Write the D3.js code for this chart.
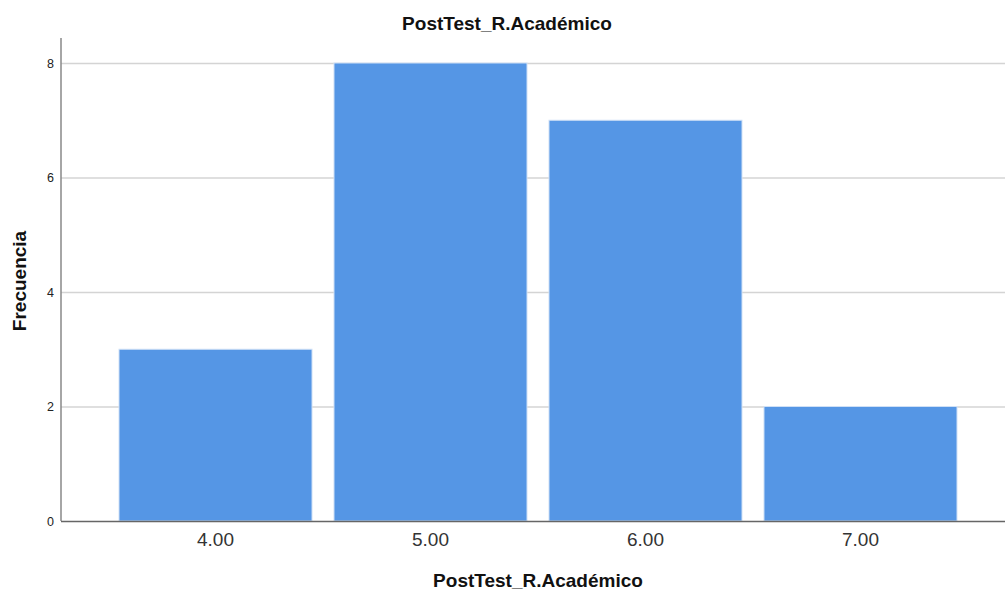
<!DOCTYPE html>
<html>
<head>
<meta charset="utf-8">
<script src="https://cdn.jsdelivr.net/npm/d3@7"></script>
<style>
  html, body { margin: 0; padding: 0; background: #fff; }
  svg { display: block; }
</style>
</head>
<body>
<svg id="chart" width="1005" height="590"></svg>
<script>
const categories = ["4.00", "5.00", "6.00", "7.00"];
const frequencies = [3, 8, 7, 2];
const yTicks = [0, 2, 4, 6, 8];
const chartTitle = "PostTest_R.Académico";
const xTitle = "PostTest_R.Académico";
const yTitle = "Frecuencia";

const svg = d3.select("#chart");
const font = "'Liberation Sans', Arial, sans-serif";

const plotLeft = 61, plotRight = 1005, plotTop = 38, plotBottom = 521;

const x = d3.scaleBand()
  .domain(categories)
  .range([108, 968])
  .paddingInner(0.1023)
  .paddingOuter(0.0512);

const y = d3.scaleLinear().domain([0, 8]).range([plotBottom, 63]);

// gridlines
svg.append("g").selectAll("line")
  .data(yTicks.filter(d => d > 0))
  .join("line")
  .attr("x1", plotLeft).attr("x2", plotRight)
  .attr("y1", d => y(d) + 0.5).attr("y2", d => y(d) + 0.5)
  .attr("stroke", "#d4d4d4").attr("stroke-width", 1.5);

// bars
svg.append("g").selectAll("rect")
  .data(categories.map((c, i) => ({c, v: frequencies[i]})))
  .join("rect")
  .attr("x", d => x(d.c))
  .attr("y", d => y(d.v))
  .attr("width", x.bandwidth())
  .attr("height", d => y(0) - y(d.v))
  .attr("fill", "#5596e5")
  .attr("stroke", "#cfe0f6")
  .attr("stroke-width", 1);

// y axis
const yAxis = d3.axisLeft(y).tickValues(yTicks).tickSize(0).tickPadding(7).tickFormat(d3.format("d"));
const gy = svg.append("g").attr("transform", `translate(${plotLeft},0)`).call(yAxis);
gy.select(".domain").remove();
gy.selectAll("text").attr("font-family", font).attr("font-size", 12.5).attr("fill", "#222");
svg.append("line")
  .attr("x1", plotLeft).attr("x2", plotLeft)
  .attr("y1", plotTop).attr("y2", plotBottom)
  .attr("stroke", "#888").attr("stroke-width", 1.5);

// x axis
const xAxis = d3.axisBottom(x).tickSize(0).tickPadding(12);
const gx = svg.append("g").attr("transform", `translate(0,${plotBottom})`).call(xAxis);
gx.select(".domain").remove();
gx.selectAll("text").attr("font-family", font).attr("font-size", 19).attr("fill", "#333");
svg.append("line")
  .attr("x1", plotLeft).attr("x2", plotRight)
  .attr("y1", plotBottom + 0.5).attr("y2", plotBottom + 0.5)
  .attr("stroke", "#666").attr("stroke-width", 1.5);

// titles
svg.append("text")
  .attr("x", 507).attr("y", 30)
  .attr("text-anchor", "middle")
  .attr("font-family", font).attr("font-weight", "bold").attr("font-size", 19)
  .attr("fill", "#111")
  .text(chartTitle);

svg.append("text")
  .attr("x", 538).attr("y", 587)
  .attr("text-anchor", "middle")
  .attr("font-family", font).attr("font-weight", "bold").attr("font-size", 19)
  .attr("fill", "#111")
  .text(xTitle);

svg.append("text")
  .attr("transform", "translate(26,281) rotate(-90)")
  .attr("text-anchor", "middle")
  .attr("font-family", font).attr("font-weight", "bold").attr("font-size", 19)
  .attr("fill", "#111")
  .text(yTitle);
</script>
</body>
</html>
